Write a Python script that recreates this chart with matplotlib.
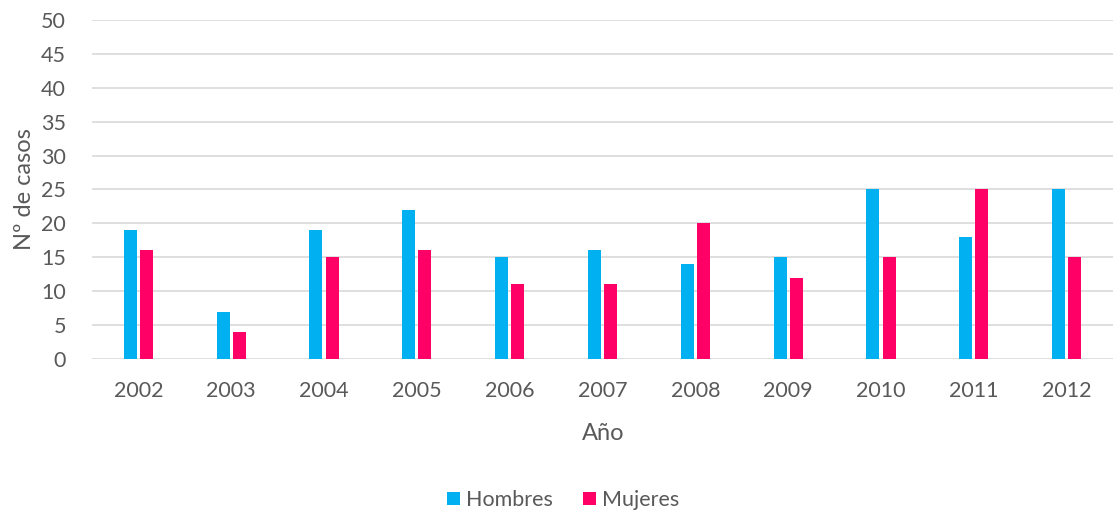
import matplotlib.pyplot as plt
import numpy as np

plt.rcParams['font.family'] = ['Lato', 'DejaVu Sans']

years = ['2002', '2003', '2004', '2005', '2006', '2007', '2008', '2009', '2010', '2011', '2012']
hombres = [19, 7, 19, 22, 15, 16, 14, 15, 25, 18, 25]
mujeres = [16, 4, 15, 16, 11, 11, 20, 12, 15, 25, 15]

gray = '#595959'
fig = plt.figure(figsize=(11.13, 5.11), dpi=100)
ax = fig.add_axes([0.083, 0.2975, 0.917, 0.6635])

x = np.arange(len(years))
w = 0.14
ax.bar(x - w / 2 - 0.017, hombres, w, color='#00B0F0', label='Hombres', zorder=3)
ax.bar(x + w / 2 + 0.017, mujeres, w, color='#FF0066', label='Mujeres', zorder=3)

ax.set_xlim(-0.495, 10.5)
ax.set_ylim(0, 50)
ax.set_yticks(range(0, 51, 5))
ax.set_xticks(x)
ax.set_xticklabels(years)
ax.yaxis.grid(True, color='#D9D9D9', linewidth=1.2, zorder=0)
for s in ax.spines.values():
    s.set_visible(False)
ax.tick_params(length=0, colors=gray, labelsize=15.5)
ax.tick_params(axis='x', pad=16)
ax.tick_params(axis='y', pad=19)

ax.set_xlabel('Año', color=gray, fontsize=17, labelpad=16)
ax.set_ylabel('Nº de casos', color=gray, fontsize=17, labelpad=4)

leg = fig.legend(loc='lower center', bbox_to_anchor=(0.506, -0.036), ncol=2, frameon=False,
                 fontsize=15.5, handlelength=0.6, handleheight=0.6, handletextpad=0.3,
                 columnspacing=1.4)
for t in leg.get_texts():
    t.set_color(gray)

fig.savefig('out.png', dpi=100)
